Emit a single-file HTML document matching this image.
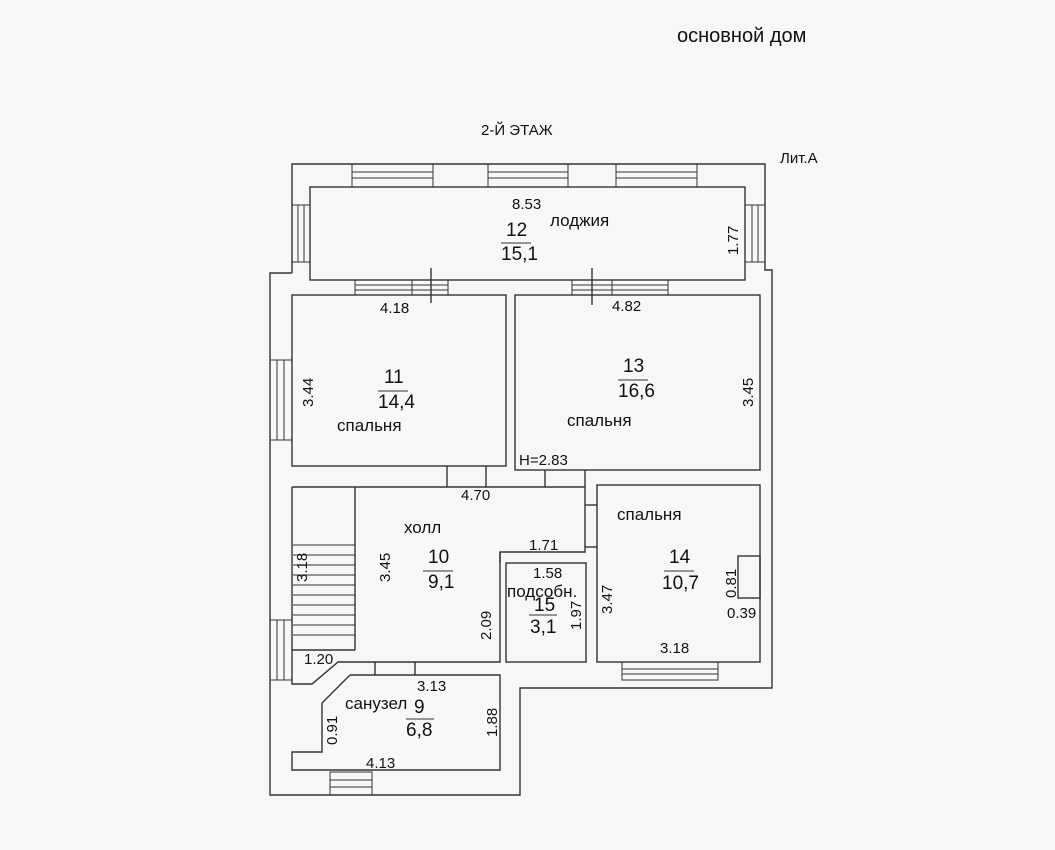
<!DOCTYPE html>
<html><head><meta charset="utf-8"><style>
html,body{margin:0;padding:0;background:#f6f6f6;}
svg{display:block}
text{font-family:"Liberation Sans",sans-serif;fill:#111;}
</style></head><body>
<svg width="1055" height="850" viewBox="0 0 1055 850" xmlns="http://www.w3.org/2000/svg">
<rect width="1055" height="850" fill="#f7f7f7"/>
<g fill="none" stroke="#333" stroke-width="1.4">
<polyline points="292,273 292,164 765,164 765,270 772,270 772,688 520,688 520,795 270,795 270,273 292,273"/>
<rect x="310" y="187" width="435" height="93"/>
<rect x="292" y="295" width="214" height="171"/>
<rect x="515" y="295" width="245" height="175"/>
<polyline points="292,487 585,487 585,552 500,552 500,662 338,662 312,684 292,684 292,487"/>
<line x1="355" y1="487" x2="355" y2="650"/>
<line x1="292" y1="650" x2="355" y2="650"/>
<rect x="506" y="563" width="80" height="99"/>
<rect x="597" y="485" width="163" height="177"/>
<rect x="738" y="556" width="22" height="42"/>
<polyline points="350,675 500,675 500,770 292,770 292,752 322,752 322,703 350,675"/>
<line x1="500" y1="552" x2="500" y2="563"/>
<line x1="447" y1="466" x2="447" y2="487"/><line x1="486" y1="466" x2="486" y2="487"/>
<line x1="545" y1="470" x2="545" y2="487"/><line x1="585" y1="470" x2="585" y2="487"/>
<line x1="585" y1="505" x2="597" y2="505"/><line x1="585" y1="547" x2="597" y2="547"/>
<line x1="375" y1="662" x2="375" y2="675"/><line x1="415" y1="662" x2="415" y2="675"/>
<line x1="431" y1="268" x2="431" y2="303"/><line x1="592" y1="268" x2="592" y2="305"/>
<g stroke-width="1">
<line x1="293" y1="545" x2="355" y2="545"/><line x1="293" y1="555" x2="355" y2="555"/>
<line x1="293" y1="565" x2="355" y2="565"/><line x1="293" y1="575" x2="355" y2="575"/>
<line x1="293" y1="585" x2="355" y2="585"/><line x1="293" y1="595" x2="355" y2="595"/>
<line x1="293" y1="605" x2="355" y2="605"/><line x1="293" y1="615" x2="355" y2="615"/>
<line x1="293" y1="625" x2="355" y2="625"/><line x1="293" y1="635" x2="355" y2="635"/>
</g>
<g stroke-width="1">
<rect x="352" y="164" width="81" height="23"/><line x1="352" y1="172" x2="433" y2="172"/><line x1="352" y1="178" x2="433" y2="178"/>
<rect x="488" y="164" width="80" height="23"/><line x1="488" y1="172" x2="568" y2="172"/><line x1="488" y1="178" x2="568" y2="178"/>
<rect x="616" y="164" width="81" height="23"/><line x1="616" y1="172" x2="697" y2="172"/><line x1="616" y1="178" x2="697" y2="178"/>
<rect x="355" y="280" width="93" height="15"/><line x1="355" y1="285" x2="448" y2="285"/><line x1="355" y1="290" x2="448" y2="290"/><line x1="412" y1="280" x2="412" y2="295"/>
<rect x="572" y="280" width="96" height="15"/><line x1="572" y1="285" x2="668" y2="285"/><line x1="572" y1="290" x2="668" y2="290"/><line x1="612" y1="280" x2="612" y2="295"/>
<rect x="622" y="662" width="96" height="18"/><line x1="622" y1="669" x2="718" y2="669"/><line x1="622" y1="674" x2="718" y2="674"/>
<rect x="330" y="772" width="42" height="23"/><line x1="330" y1="780" x2="372" y2="780"/><line x1="330" y1="787" x2="372" y2="787"/>
<rect x="292" y="205" width="18" height="57"/><line x1="298" y1="205" x2="298" y2="262"/><line x1="304" y1="205" x2="304" y2="262"/>
<rect x="745" y="205" width="20" height="57"/><line x1="752" y1="205" x2="752" y2="262"/><line x1="758" y1="205" x2="758" y2="262"/>
<rect x="270" y="360" width="22" height="80"/><line x1="277" y1="360" x2="277" y2="440"/><line x1="284" y1="360" x2="284" y2="440"/>
<rect x="270" y="620" width="22" height="60"/><line x1="277" y1="620" x2="277" y2="680"/><line x1="284" y1="620" x2="284" y2="680"/>
</g>
</g>
<g font-size="15">
<text x="677" y="42" font-size="20">основной дом</text>
<text x="481" y="135" font-size="15">2-Й ЭТАЖ</text>
<text x="780" y="163" font-size="15">Лит.А</text>
<text x="512" y="209">8.53</text>
<text x="550" y="226" font-size="17">лоджия</text>
<text x="506" y="236" font-size="19">12</text>
<line x1="501" y1="243" x2="531" y2="243" stroke="#333"/>
<text x="501" y="260" font-size="19">15,1</text>
<text x="738" y="255" transform="rotate(-90 738 255)">1.77</text>
<text x="380" y="313">4.18</text>
<text x="612" y="311">4.82</text>
<text x="384" y="383" font-size="19">11</text>
<line x1="378" y1="391" x2="408" y2="391" stroke="#333"/>
<text x="378" y="408" font-size="19">14,4</text>
<text x="313" y="407" transform="rotate(-90 313 407)">3.44</text>
<text x="337" y="431" font-size="17">спальня</text>
<text x="623" y="372" font-size="19">13</text>
<line x1="618" y1="380" x2="648" y2="380" stroke="#333"/>
<text x="618" y="397" font-size="19">16,6</text>
<text x="753" y="407" transform="rotate(-90 753 407)">3.45</text>
<text x="567" y="426" font-size="17">спальня</text>
<text x="519" y="465">H=2.83</text>
<text x="461" y="500">4.70</text>
<text x="404" y="533" font-size="17">холл</text>
<text x="428" y="563" font-size="19">10</text>
<line x1="423" y1="571" x2="453" y2="571" stroke="#333"/>
<text x="428" y="588" font-size="19">9,1</text>
<text x="390" y="582" transform="rotate(-90 390 582)">3.45</text>
<text x="307" y="582" transform="rotate(-90 307 582)">3.18</text>
<text x="304" y="664">1.20</text>
<text x="491" y="640" transform="rotate(-90 491 640)">2.09</text>
<text x="529" y="550">1.71</text>
<text x="533" y="578">1.58</text>
<text x="507" y="597" font-size="17">подсобн.</text>
<text x="534" y="611" font-size="19">15</text>
<line x1="529" y1="615" x2="557" y2="615" stroke="#333"/>
<text x="530" y="633" font-size="19">3,1</text>
<text x="581" y="630" transform="rotate(-90 581 630)">1.97</text>
<text x="617" y="520" font-size="17">спальня</text>
<text x="669" y="563" font-size="19">14</text>
<line x1="664" y1="571" x2="694" y2="571" stroke="#333"/>
<text x="662" y="589" font-size="19">10,7</text>
<text x="612" y="614" transform="rotate(-90 612 614)">3.47</text>
<text x="736" y="598" transform="rotate(-90 736 598)">0.81</text>
<text x="727" y="618">0.39</text>
<text x="660" y="653">3.18</text>
<text x="417" y="691">3.13</text>
<text x="345" y="709" font-size="17">санузел</text>
<text x="414" y="713" font-size="19">9</text>
<line x1="406" y1="719" x2="434" y2="719" stroke="#333"/>
<text x="406" y="736" font-size="19">6,8</text>
<text x="337" y="745" transform="rotate(-90 337 745)">0.91</text>
<text x="497" y="737" transform="rotate(-90 497 737)">1.88</text>
<text x="366" y="768">4.13</text>
</g>
</svg>
</body></html>
